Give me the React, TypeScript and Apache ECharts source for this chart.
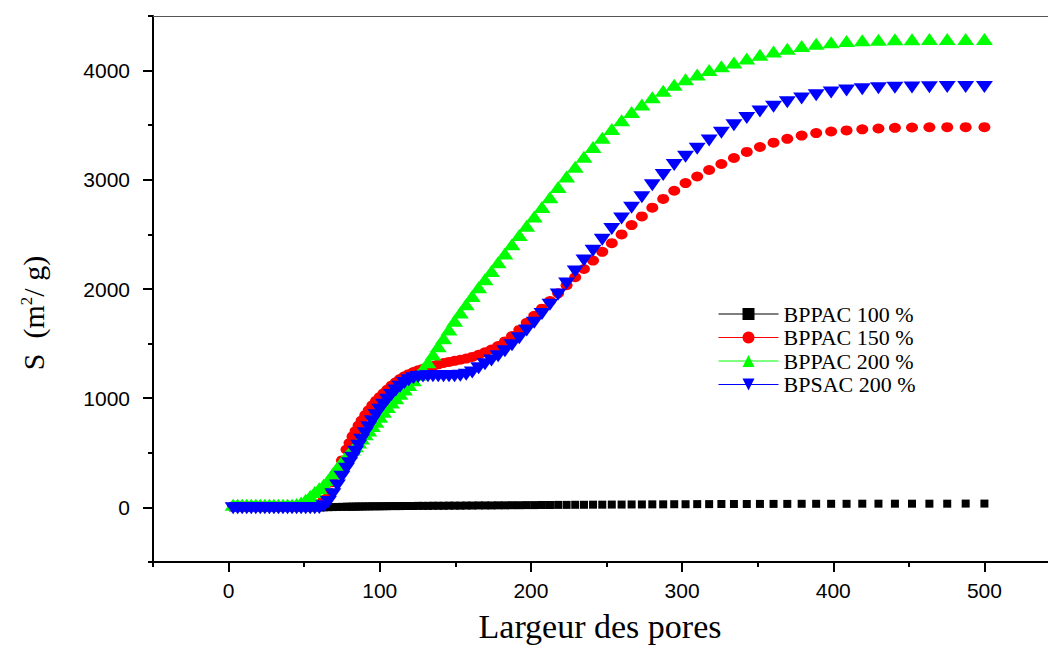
import React, { useEffect, useRef } from "react";
import * as echarts from "echarts";

const xValues = [
  3, 6, 9, 12, 15, 18, 21, 24, 27, 30, 33, 36, 39, 42, 45, 48, 51, 54, 57, 60, 63, 66, 69, 72, 75,
  78, 80, 82, 84, 86, 88,
  90.4, 92.7, 95.1, 97.5, 100,
  102.5, 105.1, 107.8, 110.6, 113.4,
  116.3, 119.2, 122.3, 125.4, 128.6,
  131.9, 135.2, 138.7, 142.2, 145.8,
  149.5, 153.3, 157.2, 161.2, 165.4,
  169.6, 173.9, 178.3, 182.8, 187.5,
  192.3, 197.2, 202.2, 207.3, 212.6,
  218, 223.6, 229.3, 235.1, 241.1,
  247.2, 253.5, 260, 266.6, 273.4,
  280.3, 287.5, 294.8, 302.3, 310,
  317.9, 326, 334.3, 342.8, 351.5,
  360.5, 369.6, 379.1, 388.7, 398.6,
  408.8, 419.2, 429.9, 440.8, 452.1,
  463.6, 475.4, 487.6, 500,
];

const bppac100 = [
  0, 0, 0, 0, 0, 0, 0, 0, 0, 0, 0, 0, 0, 0, 0, 0, 0, 0, 0, 0, 1, 2, 3, 4, 5,
  6, 6, 7, 7, 8, 8,
  9, 9, 10, 10, 10,
  11, 11, 12, 12, 12,
  13, 13, 13, 14, 14,
  14, 15, 15, 15, 16,
  16, 16, 17, 17, 18,
  18, 18, 19, 19, 20,
  20, 21, 21, 22, 22,
  23, 23, 24, 24, 25,
  25, 26, 26, 27, 27,
  28, 28, 29, 29, 30,
  30, 31, 31, 31, 32,
  32, 32, 33, 33, 33,
  33, 34, 34, 34, 34,
  34, 34, 35, 35,
];

const bppac150 = [
  10, 10, 10, 10, 10, 10, 10, 10, 10, 10, 10, 10, 10, 10, 10, 10, 10, 10, 15, 30, 70, 140, 230, 330, 430,
  530, 590, 650, 700, 750, 795,
  845, 890, 935, 975, 1010,
  1045, 1080, 1115, 1145, 1175,
  1200, 1220, 1240, 1255, 1268,
  1280, 1295, 1310, 1322, 1332,
  1342, 1352, 1363, 1378, 1398,
  1420, 1445, 1478, 1520, 1570,
  1625, 1690, 1755, 1820, 1890,
  1960, 2035, 2108, 2183, 2260,
  2340, 2420, 2500, 2585, 2665,
  2745, 2825, 2900, 2970, 3030,
  3090, 3145, 3200, 3255, 3300,
  3340, 3375, 3405, 3428, 3442,
  3452, 3462, 3470, 3476, 3479,
  3481, 3482, 3482, 3482,
];

const bppac200 = [
  25, 25, 25, 25, 25, 25, 25, 25, 25, 25, 25, 25, 25, 25, 30, 45, 70, 105, 140, 175, 210, 250, 310, 365, 420,
  470, 500, 530, 560, 595, 630,
  670, 705, 745, 785, 830,
  875, 920, 960, 1000, 1040,
  1080, 1120, 1165, 1215, 1270,
  1330, 1400, 1475, 1550, 1630,
  1710, 1785, 1860, 1935, 2015,
  2090, 2165, 2245, 2325, 2410,
  2495, 2580, 2665, 2750, 2840,
  2935, 3030, 3120, 3210, 3300,
  3385, 3465, 3545, 3620, 3690,
  3755, 3815, 3870, 3920, 3965,
  4005, 4040, 4075, 4110, 4145,
  4175, 4200, 4225, 4245, 4260,
  4270, 4278, 4283, 4286, 4288,
  4289, 4290, 4290, 4290,
];

const bpsac200 = [
  -8, -8, -8, -8, -8, -8, -8, -8, -8, -8, -8, -8, -8, -8, -8, -8, -8, -8, -8, -5, 10, 50, 120, 200, 280,
  355, 405, 455, 510, 565, 620,
  680, 735, 790, 845, 895,
  940, 985, 1030, 1070, 1105,
  1140, 1165, 1182, 1193, 1198,
  1200, 1200, 1200, 1200, 1200,
  1202, 1206, 1214, 1235, 1275,
  1310, 1345, 1385, 1430, 1485,
  1550, 1620, 1690, 1770, 1855,
  1950, 2050, 2160, 2260, 2350,
  2450, 2550, 2645, 2745, 2840,
  2950, 3045, 3135, 3210, 3285,
  3360, 3430, 3500, 3565, 3625,
  3670, 3710, 3745, 3775, 3800,
  3818, 3830, 3838, 3843, 3846,
  3848, 3849, 3850, 3850,
];

const seriesNames = ["BPPAC 100 %", "BPPAC 150 %", "BPPAC 200 %", "BPSAC 200 %"];
const xMajorTicks = [0, 100, 200, 300, 400, 500];
const yMajorTicks = [0, 1000, 2000, 3000, 4000];
const xAxisTitle = "Largeur des pores";

const SERIF = '"Liberation Serif", "Times New Roman", serif';
const SANS = '"Liberation Sans", Arial, sans-serif';

export default function App() {
  const ref = useRef<HTMLDivElement>(null);

  useEffect(() => {
    if (!ref.current) return;
    const chart = echarts.init(ref.current, null, { renderer: "svg" });

    const pairs = (ys: number[]) => xValues.map((x, i) => [x, ys[i]]);
    const styles = [
      { color: "#000000", symbol: "rect", size: 8, rotate: 0 },
      { color: "#ff0000", symbol: "circle", size: [12, 10], rotate: 0 },
      { color: "#00ff00", symbol: "triangle", size: [17, 12], rotate: 0 },
      { color: "#0000ff", symbol: "triangle", size: [17, 12], rotate: 180 },
    ];
    const datasets = [bppac100, bppac150, bppac200, bpsac200];

    const axisLineBlack = { show: true, onZero: false, lineStyle: { color: "#000", width: 2 } };

    chart.setOption({
      animation: false,
      backgroundColor: "#ffffff",
      grid: {
        left: 153,
        top: 16,
        right: -12,
        bottom: 84,
        containLabel: false,
        outerBoundsMode: "none",
      },
      xAxis: [
        {
          type: "value",
          min: -50,
          max: 550,
          interval: 50,
          position: "bottom",
          axisLine: axisLineBlack,
          axisTick: { show: true, length: 5, lineStyle: { color: "#000", width: 2 } },
          axisLabel: {
            margin: 18,
            fontFamily: SANS,
            fontSize: 21,
            color: "#000",
            formatter: (v: number) => (xMajorTicks.includes(v) ? String(v) : ""),
          },
          splitLine: { show: false },
        },
        {
          type: "value",
          min: -50,
          max: 550,
          position: "bottom",
          axisLine: { show: false, onZero: false },
          axisTick: { show: true, length: 10, customValues: xMajorTicks, lineStyle: { color: "#000", width: 2 } },
          axisLabel: { show: false },
          splitLine: { show: false },
        },
        {
          type: "value",
          min: -50,
          max: 550,
          position: "top",
          axisLine: { show: true, onZero: false, lineStyle: { color: "#555", width: 1 } },
          axisTick: { show: false },
          axisLabel: { show: false },
          splitLine: { show: false },
        },
      ],
      yAxis: [
        {
          type: "value",
          min: -500,
          max: 4500,
          interval: 500,
          position: "left",
          axisLine: axisLineBlack,
          axisTick: { show: true, length: 5, lineStyle: { color: "#000", width: 2 } },
          axisLabel: {
            margin: 23,
            fontFamily: SANS,
            fontSize: 21,
            color: "#000",
            formatter: (v: number) => (yMajorTicks.includes(v) ? String(v) : ""),
          },
          splitLine: { show: false },
        },
        {
          type: "value",
          min: -500,
          max: 4500,
          position: "left",
          axisLine: { show: false, onZero: false },
          axisTick: { show: true, length: 10, customValues: yMajorTicks, lineStyle: { color: "#000", width: 2 } },
          axisLabel: { show: false },
          splitLine: { show: false },
        },
      ],
      legend: {
        orient: "vertical",
        left: 713,
        top: 298,
        itemWidth: 60,
        itemHeight: 15,
        itemGap: 1.5,
        textStyle: { fontFamily: SERIF, fontSize: 22, color: "#000" },
        data: seriesNames.map((n, i) => ({
          name: n,
          lineStyle: { color: styles[i].color, width: 1, opacity: 1 },
        })),
      },
      graphic: [
        {
          type: "text",
          x: 600,
          y: 626,
          style: {
            text: xAxisTitle,
            fontFamily: SERIF,
            fontSize: 34,
            fill: "#000",
            textAlign: "center",
            textVerticalAlign: "middle",
          },
        },
        {
          type: "text",
          x: 33,
          y: 313,
          rotation: Math.PI / 2,
          style: {
            text: "{a|S  (m}{b|2}{a|/ g)}",
            textAlign: "center",
            textVerticalAlign: "middle",
            rich: {
              a: { fontFamily: SERIF, fontSize: 30, fill: "#000" },
              b: { fontFamily: SERIF, fontSize: 17, fill: "#000", verticalAlign: "top" },
            },
          },
        },
      ],
      series: seriesNames.map((name, i) => ({
        name,
        type: "line",
        xAxisIndex: 0,
        yAxisIndex: 0,
        data: pairs(datasets[i]),
        symbol: styles[i].symbol,
        symbolSize: styles[i].size,
        symbolRotate: styles[i].rotate,
        showSymbol: true,
        showAllSymbol: true,
        itemStyle: { color: styles[i].color },
        lineStyle: { color: styles[i].color, width: 1, opacity: 0 },
        emphasis: { disabled: true },
        z: 2 + i,
      })),
    });

    return () => chart.dispose();
  }, []);

  return (
    <div
      ref={ref}
      style={{ position: "fixed", left: 0, top: 0, width: 1048, height: 646, background: "#fff" }}
    />
  );
}
